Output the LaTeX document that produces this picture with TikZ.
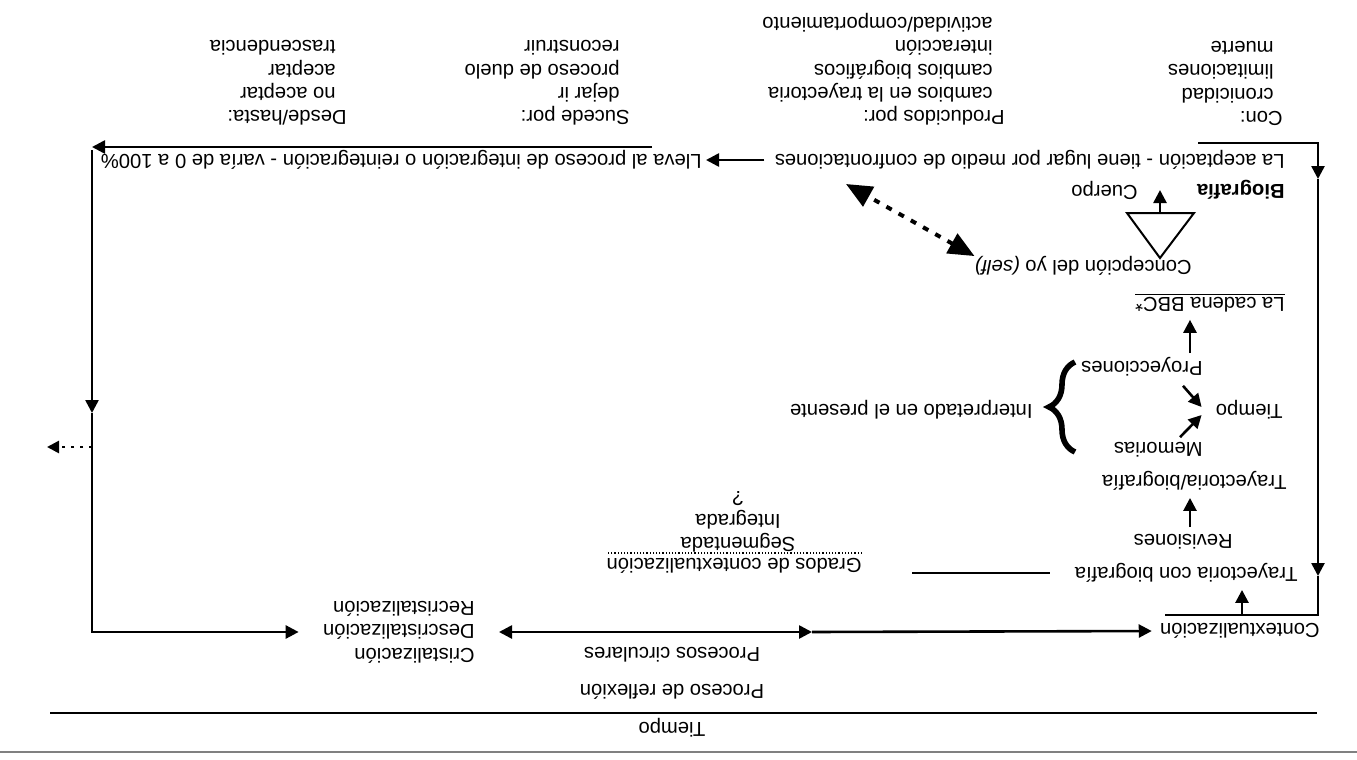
\documentclass[tikz,border=0pt]{standalone}
\usepackage{fontspec}
\setmainfont{Liberation Sans}
\usetikzlibrary{arrows.meta,decorations.pathreplacing}

\tikzset{
  txt/.style={rotate=180, inner sep=0pt, font=\fontsize{10.1}{11.7}\selectfont},
  lbl/.style={txt, anchor=west},
  blk/.style={txt, anchor=north west, align=left},
  ctr/.style={txt, anchor=north, align=center},
  wire/.style={line width=1.3pt},
  conn/.style={wire, -{Triangle[length=6.5pt,width=6.5pt]}},
  dconn/.style={wire, {Triangle[length=6.5pt,width=6.5pt]}-{Triangle[length=6.5pt,width=6.5pt]}},
  selfarr/.style={line width=2pt, dash pattern=on 3pt off 4pt,
    {Triangle[length=13pt,width=11pt]}-{Triangle[length=13pt,width=11pt]}},
  outarr/.style={wire, dash pattern=on 1.5pt off 3pt, -{Triangle[length=6pt,width=6pt]}}
}

\begin{document}
\begin{tikzpicture}[x=0.5pt, y=-0.5pt]
  \useasboundingbox (0,0) rectangle (1357,760);

  % Lists at the top
  \node[blk] (con) at (1283,126) {Con:\\\hspace*{4.5pt}cronicidad\\\hspace*{4.5pt}limitaciones\\\hspace*{4.5pt}muerte};
  \node[blk] (prod) at (1005,126) {Producidos por:\\\hspace*{6pt}cambios en la trayectoria\\\hspace*{6pt}cambios biográficos\\\hspace*{6pt}interacción\\\hspace*{6pt}actividad/comportamiento};
  \node[blk] (suc) at (630,126) {Sucede por:\\\hspace*{5pt}dejar ir\\\hspace*{5pt}proceso de duelo\\\hspace*{5pt}reconstruir};
  \node[blk] (desde) at (347,126) {Desde/hasta:\\\hspace*{5.5pt}no aceptar\\\hspace*{5.5pt}aceptar\\\hspace*{5.5pt}trascendencia};

  % Acceptance row
  \node[lbl] (acept) at (1285,160) {La aceptación - tiene lugar por medio de confrontaciones};
  \node[lbl] (lleva) at (702,160) {Lleva al proceso de integración o reintegración - varía de 0 a 100\%};
  \draw[conn, shorten <=5pt, shorten >=2pt] (acept.east) -- (lleva.west);

  % BBC chain
  \node[lbl] (bio) at (1285,190) {\bfseries Biografía};
  \node[lbl] (cuerpo) at (1138,190) {Cuerpo};
  \draw[line width=1pt] (1127,213) -- (1194,213) -- (1160,258) -- cycle;
  \coordinate (tribase) at (1160,213);
  \draw[conn] (tribase) -- (tribase |- cuerpo);
  \node[lbl] (self) at (1192,266) {Concepción del yo \textit{(self)}};
  \coordinate (selfend) at (846,184);
  \draw[selfarr] (self.south east) -- (selfend);
  \node[lbl] (cadena) at (1285,303) {\underline{La cadena BBC*}};

  % Time
  \node[lbl] (proy) at (1203,367) {Proyecciones};
  \node[lbl] (tiempo) at (1283,410) {Tiempo};
  \node[lbl] (mem) at (1203,450) {Memorias};
  \node[lbl] (trayb) at (1287,481) {Trayectoria/biografía};
  \node[lbl] (interp) at (1033,410) {Interpretado en el presente};
  \draw[line width=2.8pt, decorate, decoration={brace, amplitude=13pt}] (1075,452) -- (1075,362);
  \draw[conn, shorten <=2pt, shorten >=3.5pt] (proy.south -| 1190,0) -- (cadena.north -| 1190,0);
  \draw[conn] ([xshift=-10pt,yshift=-4.5pt]proy.north west) -- ([xshift=-7pt,yshift=1.5pt]tiempo.east);
  \draw[conn] ([xshift=-11.5pt,yshift=2.5pt]mem.south west) -- ([xshift=-7pt,yshift=-2.5pt]tiempo.east);

  % Trajectory
  \node[lbl] (rev) at (1233,542) {Revisiones};
  \node[lbl] (trayc) at (1298,573) {Trayectoria con biografía};
  \node[lbl] (grados) at (862,566) {Grados de contextualización};
  \draw[densely dotted, line width=0.6pt] ([yshift=2.5pt]grados.south west) -- ([yshift=2.5pt]grados.south east);
  \draw[line width=0.8pt, shorten <=12.5pt, shorten >=25pt] (trayc.east) -- (trayc.east -| grados.west);
  \node[ctr] (segm) at (738,553) {Segmentada\\Integrada\\?};
  \draw[conn, shorten <=3.5pt, shorten >=3.5pt] (rev.south -| 1190,0) -- (trayb.north -| 1190,0);
  \node[lbl] (ctx) at (1320,631) {Contextualización};

  % Right frame
  \draw[conn] (1198,143) -- (1318,143) -- (1318,179);
  \draw[conn] (1318,179) -- (1318,576);
  \draw[wire] (1318,576) -- (1318,615) -- (1165,615);
  \coordinate (ctxup) at (1242,615);
  \draw[conn, shorten >=3.5pt] (ctxup) -- (ctxup |- trayc.north);

  % Crystallisation and circular processes
  \node[txt, anchor=west, align=left] (desc) at (475,632) {Cristalización\\Descristalización\\Recristalización};
  \coordinate (mid) at (812,632);
  \draw[dconn, shorten <=12pt] (desc.west) -- (mid);
  \draw[conn, shorten >=4pt] (mid) -- (ctx.east);
  \node[txt] (circ) at (672,655) {Procesos circulares};

  % Left frame
  \draw[conn] (652,147) -- (92,147);
  \draw[conn] (92,150) -- (92,413);
  \draw[conn, shorten >=12pt] (92,413) -- (92,632) -- (desc.east);
  \coordinate (outl) at (47,447);
  \draw[outarr] (92,447) -- (outl);

  % Time axis
  \node[txt] (refl) at (672,692) {Proceso de reflexión};
  \draw[line width=1.3pt] (50,713) -- (1317,713);
  \node[txt] (eje) at (672,728) {Tiempo};
  \draw[gray, line width=0.8pt] (0,752) -- (1357,752);
\end{tikzpicture}
\end{document}
